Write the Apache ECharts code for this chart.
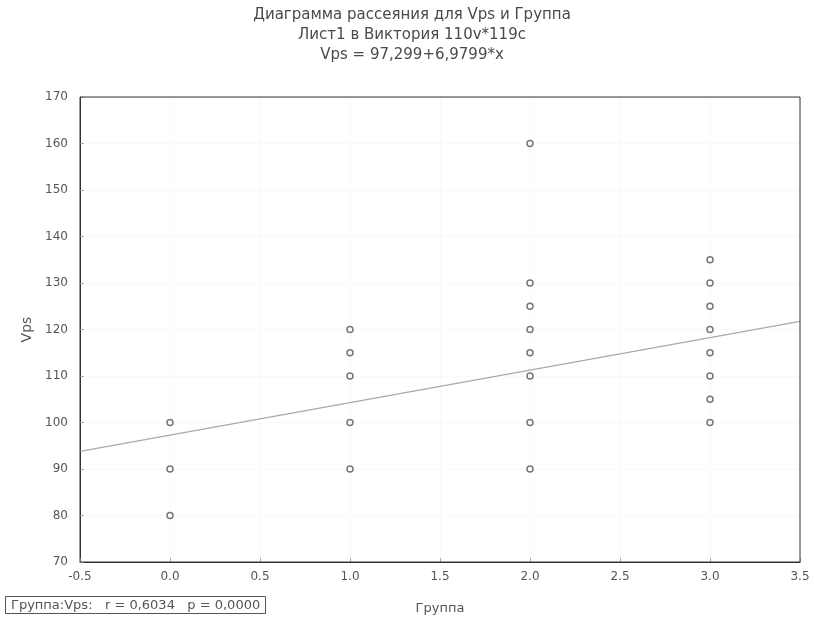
<!DOCTYPE html>
<html><head><meta charset="utf-8">
<script src="https://cdn.jsdelivr.net/npm/echarts@6/dist/echarts.min.js"></script>
<style>html,body{margin:0;padding:0;background:#fff}#c{width:815px;height:622px}</style>
</head><body><div id="c"></div>
<script>
const groups = [0,0,0, 1,1,1,1,1, 2,2,2,2,2,2,2,2, 3,3,3,3,3,3,3,3];
const vps    = [100,90,80, 120,115,110,100,90, 160,130,125,120,115,110,100,90, 135,130,125,120,115,110,105,100];
const fitX = [-0.5, 3.5];
const fitY = [93.809, 121.729];
const titleLines = ['Диаграмма рассеяния для Vps и Группа','Лист1 в Виктория 110v*119c','Vps = 97,299+6,9799*x'];
const statText = 'Группа:Vps:   r = 0,6034   p = 0,0000';

const font = 'DejaVu Sans';
const chart = echarts.init(document.getElementById('c'));
chart.setOption({
  animation:false,
  backgroundColor:'#fff',
  title:[{
    text: titleLines.join('\n'), left: 407, top: 0, textAlign:'center',
    textStyle:{fontFamily:font, fontSize:15, fontWeight:'normal', color:'#4a4a4a', lineHeight:20}
  },{
    text: statText, left: 5, top: 596,
    borderColor:'#555', borderWidth:1, padding:[3,6,2,6],
    textStyle:{fontFamily:font, fontSize:13, fontWeight:'normal', color:'#555'}
  }],
  grid:{left:80, right:15, top:97, bottom:60, show:true, borderColor:'#333', borderWidth:1, z:5},
  xAxis:{
    type:'value', min:-0.5, max:3.5, interval:0.5,
    name:'Группа', nameLocation:'middle', nameGap:40,
    nameTextStyle:{fontFamily:font, fontSize:13, color:'#555'},
    axisLine:{onZero:false, lineStyle:{color:'#333'}},
    axisTick:{inside:true, length:4, lineStyle:{color:'#aaa'}},
    axisLabel:{fontFamily:font, fontSize:12, color:'#555', margin:9, formatter:v=>v.toFixed(1)},
    splitLine:{show:true, lineStyle:{color:'#f3f3f3', type:'dotted'}}
  },
  yAxis:{
    type:'value', min:70, max:170, interval:10,
    name:'Vps', nameLocation:'middle', nameGap:45, nameRotate:90,
    nameTextStyle:{fontFamily:font, fontSize:14, color:'#555'},
    axisLine:{onZero:false, lineStyle:{color:'#333'}},
    axisTick:{inside:true, length:4, lineStyle:{color:'#aaa'}},
    axisLabel:{fontFamily:font, fontSize:12, color:'#555', margin:12},
    splitLine:{show:true, lineStyle:{color:'#f3f3f3', type:'dotted'}}
  },
  series:[{
    type:'line', data: fitX.map((x,i)=>[x,fitY[i]]), symbol:'none',
    lineStyle:{color:'#aaa', width:1.2}, z:1
  },{
    type:'scatter', data: groups.map((g,i)=>[g,vps[i]]),
    symbol:'circle', symbolSize:6,
    itemStyle:{color:'#fff', borderColor:'#555', borderWidth:1.5}, z:3
  }]
});
</script></body></html>
